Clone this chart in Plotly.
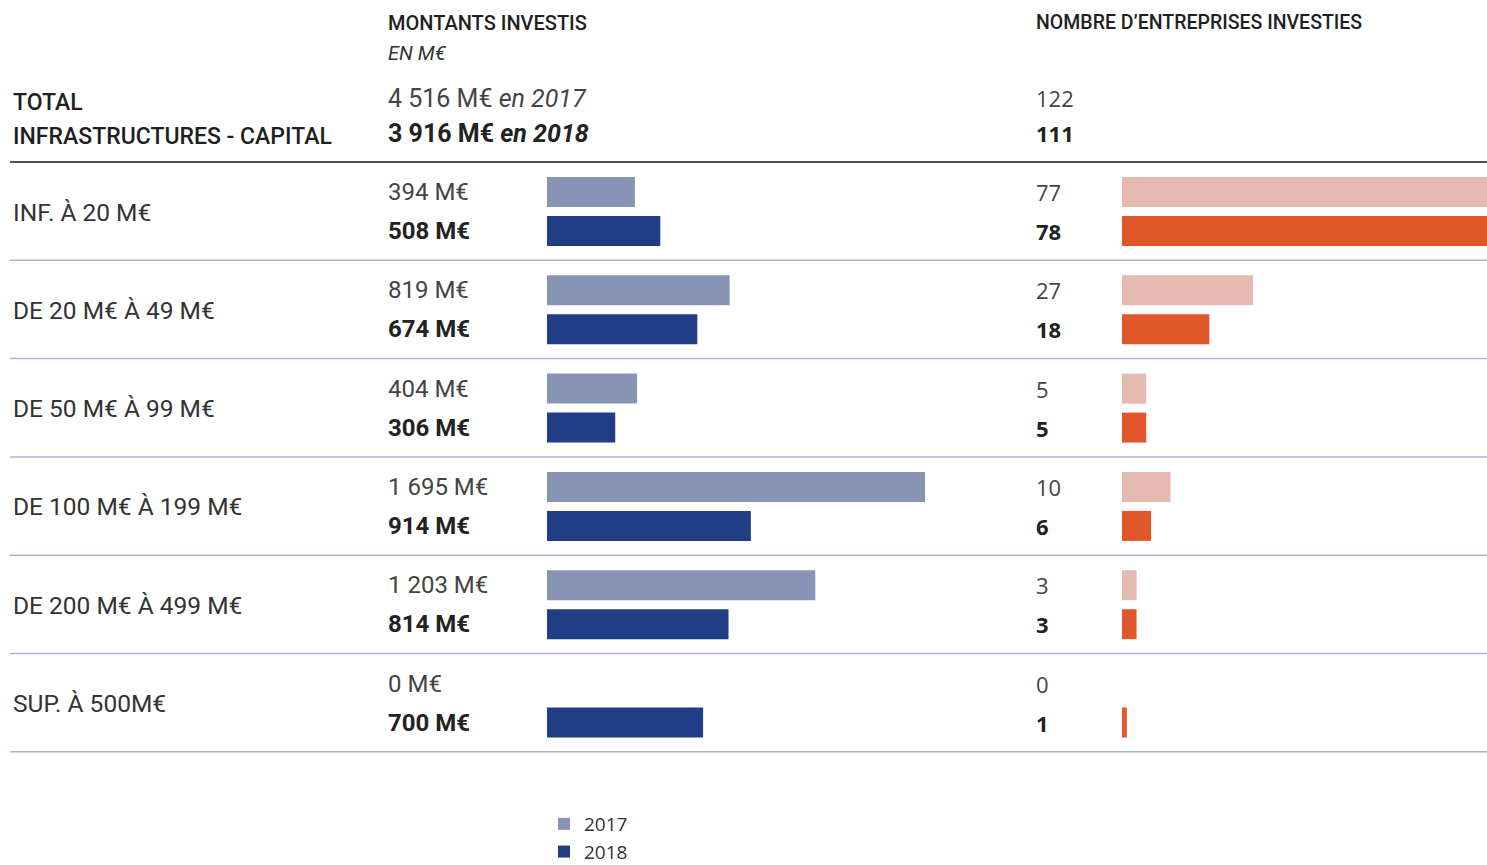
import plotly.graph_objects as go

# ---------------- data ----------------
categories = ["INF. À 20 M€", "DE 20 M€ À 49 M€", "DE 50 M€ À 99 M€",
              "DE 100 M€ À 199 M€", "DE 200 M€ À 499 M€", "SUP. À 500M€"]
amount_2017 = [394, 819, 404, 1695, 1203, 0]
amount_2018 = [508, 674, 306, 914, 814, 700]
count_2017 = [77, 27, 5, 10, 3, 0]
count_2018 = [78, 18, 5, 6, 3, 1]
total_amount = [4516, 3916]
total_count = [122, 111]
years = ["2017", "2018"]

# ---------------- style ----------------
W, H = 1487, 865
C_A17, C_A18 = "#8794b6", "#203d85"
C_N17, C_N18 = "#e5bab0", "#e0572a"
NARROW = "Roboto, sans-serif"
SANS = "Open Sans, sans-serif"
TXT = "#2b2b2b"

ROW0, ROWH = 162, 98.3
BAR_H = 30
DX, DY = -2, 0  # optical text offset


def fmt(v):
    return f"{v:,}".replace(",", " ")


def px(x):
    return x / W


row_top = [ROW0 + i * ROWH for i in range(len(categories))]
y17 = [t + 30 for t in row_top]
y18 = [t + 69 for t in row_top]

fig = go.Figure()
fig.add_trace(go.Bar(x=amount_2017, y=y17, orientation="h", width=BAR_H,
                     marker=dict(color=C_A17, line_width=0), name=years[0],
                     xaxis="x", yaxis="y", hoverinfo="x"))
fig.add_trace(go.Bar(x=amount_2018, y=y18, orientation="h", width=BAR_H,
                     marker=dict(color=C_A18, line_width=0), name=years[1],
                     xaxis="x", yaxis="y", hoverinfo="x"))
fig.add_trace(go.Bar(x=count_2017, y=y17, orientation="h", width=BAR_H,
                     marker=dict(color=C_N17, line_width=0), name=years[0],
                     xaxis="x2", yaxis="y", showlegend=False, hoverinfo="x"))
fig.add_trace(go.Bar(x=count_2018, y=y18, orientation="h", width=BAR_H,
                     marker=dict(color=C_N18, line_width=0), name=years[1],
                     xaxis="x2", yaxis="y", showlegend=False, hoverinfo="x"))

ann = []


def add(x, y, text, font=NARROW, size=23, color=TXT, weight=None):
    f = dict(family=font, size=size, color=color)
    if weight:
        f["weight"] = weight
    ann.append(dict(x=px(x + DX), y=y + DY, xref="paper", yref="y", text=text,
                    showarrow=False, xanchor="left", yanchor="middle", font=f))


# headers
add(388, 23, "MONTANTS INVESTIS", size=20, color="#1f1f1f", weight=500)
add(388, 53, "<i>EN M€</i>", size=20, color="#333")
add(1036, 22, "NOMBRE D’ENTREPRISES INVESTIES", size=19.5, color="#1f1f1f", weight=500)
add(13, 102, "TOTAL", size=23, color="#1f1f1f", weight=500)
add(13, 136, "INFRASTRUCTURES - CAPITAL", size=23, color="#1f1f1f", weight=500)
add(388, 98, f"{fmt(total_amount[0])} M€ <i>en {years[0]}</i>", size=25, color="#444")
add(388, 133, f"<b>{fmt(total_amount[1])} M€ <i>en {years[1]}</i></b>", size=25, color="#222")
add(1036, 98, f"{total_count[0]}", font=SANS, size=22, color="#444")
add(1036, 133, f"<b>{total_count[1]}</b>", font=SANS, size=22, color="#222")

for i, cat in enumerate(categories):
    add(13, row_top[i] + 50, cat, size=24.5, color="#333")
    add(388, y17[i], f"{fmt(amount_2017[i])} M€", size=24, color="#444")
    add(388, y18[i], f"<b>{fmt(amount_2018[i])} M€</b>", size=24, color="#222")
    add(1036, y17[i], f"{count_2017[i]}", font=SANS, size=22, color="#444")
    add(1036, y18[i], f"<b>{count_2018[i]}</b>", font=SANS, size=22, color="#222")

shapes = [dict(type="line", xref="paper", yref="y", x0=px(10), x1=1,
               y0=ROW0, y1=ROW0, line=dict(color="#1a1a1a", width=1.3))]
for i in range(1, len(categories) + 1):
    yy = ROW0 + i * ROWH
    shapes.append(dict(type="line", xref="paper", yref="y", x0=px(10), x1=1,
                       y0=yy, y1=yy, line=dict(color="#aab4cf", width=1.5)))

fig.update_layout(
    width=W, height=H,
    margin=dict(l=0, r=0, t=0, b=0, autoexpand=False),
    paper_bgcolor="white", plot_bgcolor="white",
    barmode="overlay",
    xaxis=dict(domain=[px(547), px(925)], range=[0, 1695], visible=False, fixedrange=True),
    xaxis2=dict(domain=[px(1122), 1], range=[0, 365 / 4.85], visible=False, fixedrange=True),
    yaxis=dict(domain=[0, 1], range=[H, 0], visible=False, fixedrange=True),
    annotations=ann,
    shapes=shapes,
    showlegend=True,
    legend=dict(x=px(544), y=1 - 805 / H, xanchor="left", yanchor="top",
                orientation="v", font=dict(family=SANS, size=19, color="#333"),
                bgcolor="rgba(0,0,0,0)", tracegroupgap=0, itemsizing="constant"),
)

fig.write_html(
    "out.html",
    config={"displayModeBar": False},
    post_script="document.body.style.margin='0';"
                "document.documentElement.style.overflow='hidden';"
                "document.body.style.overflow='hidden';",
)
